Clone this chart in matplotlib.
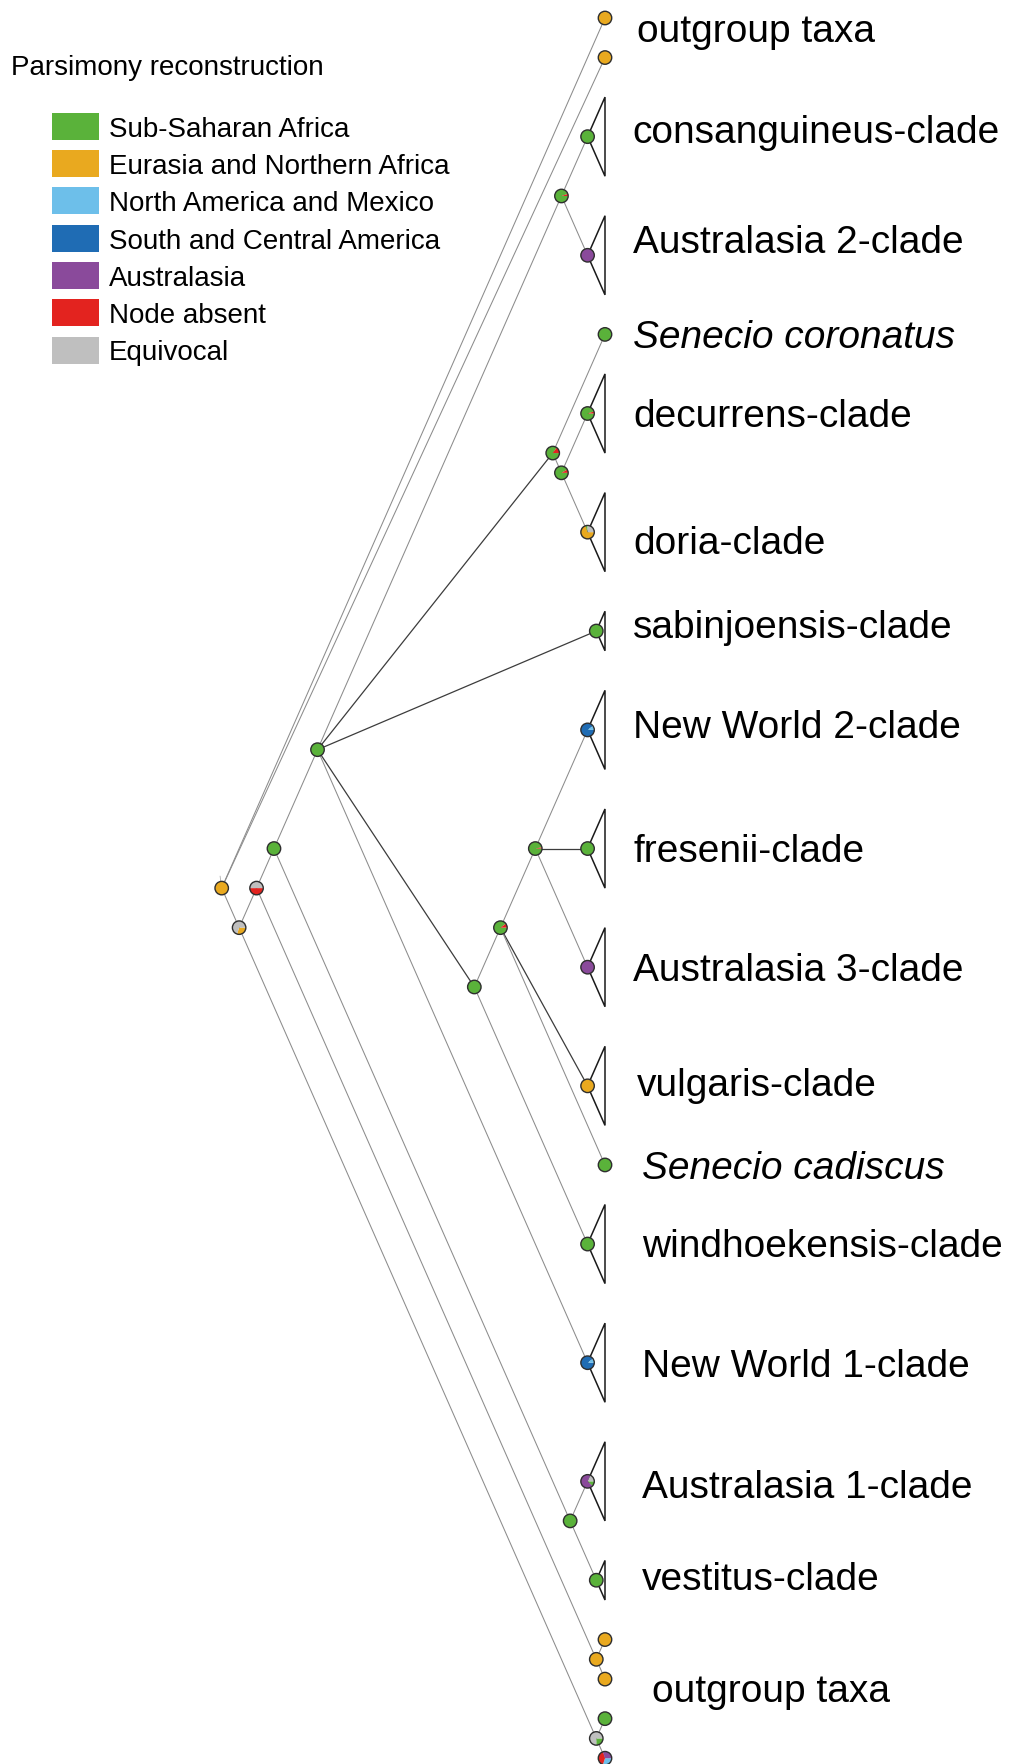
import matplotlib.pyplot as plt
from matplotlib.patches import Wedge, Circle, Polygon, Rectangle

plt.rcParams['font.family'] = ['Liberation Sans', 'DejaVu Sans']

# ancestral area states
states = ['Sub-Saharan Africa', 'Eurasia and Northern Africa', 'North America and Mexico',
          'South and Central America', 'Australasia', 'Node absent', 'Equivocal']
state_colors = ['#5ab23a', '#e9a91f', '#6dbfea', '#1f6cb4', '#8a4a9b', '#e3231f', '#bfbfbf']
G, O, LB, DB, P, R, E = range(7)

# terminals (single taxa or collapsed clades), top to bottom
tip_names = ['out1', 'out2', 'consanguineus', 'aus2', 'coronatus', 'decurrens', 'doria',
             'sabinjoensis', 'nw2', 'fresenii', 'aus3', 'vulgaris', 'cadiscus',
             'windhoekensis', 'nw1', 'aus1', 'vestitus', 'out3', 'out4', 'out5', 'out6']
tip_rows = [0, 1, 3, 6, 8, 10, 13, 15.5, 18, 21, 24, 27, 29, 31, 34, 37, 39.5, 41, 42, 43, 44]
# half height of the collapsed-clade triangle (0 = single taxon)
tip_halfheight = [0, 0, 1, 1, 0, 1, 1, 0.5, 1, 1, 1, 1, 0, 1, 1, 1, 0.5, 0, 0, 0, 0]

# internal nodes in post-order: (node, children top to bottom)
internal = [
    ('n_cons', ['consanguineus', 'aus2']),
    ('n_dec', ['decurrens', 'doria']),
    ('n_cor', ['coronatus', 'n_dec']),
    ('n_nw2', ['nw2', 'fresenii', 'aus3']),
    ('n_vul', ['n_nw2', 'vulgaris', 'cadiscus']),
    ('n_win', ['n_vul', 'windhoekensis']),
    ('n_core', ['n_cons', 'n_cor', 'sabinjoensis', 'n_win', 'nw1']),
    ('n_aus1', ['aus1', 'vestitus']),
    ('n_in', ['n_core', 'n_aus1']),
    ('n_outa', ['out3', 'out4']),
    ('n_k', ['n_in', 'n_outa']),
    ('n_outb', ['out5', 'out6']),
    ('n_m', ['n_k', 'n_outb']),
    ('root', ['out1', 'out2', 'n_m']),
]

# parsimony state proportions at each node
node_states = {
    'out1': [(O, 1)], 'out2': [(O, 1)], 'consanguineus': [(G, 1)], 'aus2': [(P, 1)],
    'coronatus': [(G, 1)], 'decurrens': [(G, .95), (R, .05)],
    'doria': [(O, .7), (G, .05), (E, .25)], 'sabinjoensis': [(G, 1)],
    'nw2': [(DB, .9), (LB, .1)], 'fresenii': [(G, 1)], 'aus3': [(P, 1)],
    'vulgaris': [(O, 1)], 'cadiscus': [(G, 1)], 'windhoekensis': [(G, 1)],
    'nw1': [(DB, .9), (LB, .1)], 'aus1': [(G, .12), (P, .7), (E, .18)],
    'vestitus': [(G, 1)], 'out3': [(O, 1)], 'out4': [(O, 1)], 'out5': [(G, 1)],
    'out6': [(LB, .3), (R, .4), (P, .3)],
    'n_cons': [(G, .95), (R, .05)], 'n_dec': [(G, .92), (R, .08)],
    'n_cor': [(G, .85), (R, .15)], 'n_nw2': [(G, .97), (R, .03)],
    'n_vul': [(G, .9), (R, .1)], 'n_win': [(G, 1)], 'n_core': [(G, 1)],
    'n_aus1': [(G, 1)], 'n_in': [(G, 1)], 'n_outa': [(O, 1)],
    'n_k': [(R, .5), (E, .5)], 'n_outb': [(G, .25), (E, .75)],
    'n_m': [(O, .3), (E, .7)], 'root': [(O, 1)],
}

labels = ['outgroup taxa', 'consanguineus-clade', 'Australasia 2-clade', 'Senecio coronatus',
          'decurrens-clade', 'doria-clade', 'sabinjoensis-clade', 'New World 2-clade',
          'fresenii-clade', 'Australasia 3-clade', 'vulgaris-clade', 'Senecio cadiscus',
          'windhoekensis-clade', 'New World 1-clade', 'Australasia 1-clade', 'vestitus-clade',
          'outgroup taxa']
label_italic = [False, False, False, True, False, False, False, False, False, False,
                False, True, False, False, False, False, False]
label_y = [0.60, 3.17, 5.94, 8.34, 10.34, 13.55, 15.68, 18.20, 21.34, 24.35, 27.26,
           29.36, 31.33, 34.36, 37.42, 39.75, 42.58]
label_dx = [0.81, 0.68, 0.71, 0.71, 0.71, 0.71, 0.71, 0.71, 0.71, 0.71, 0.81, 0.94,
            0.94, 0.94, 0.94, 0.94, 1.19]

# slanted cladogram layout
k = 2.27
pos = {}
for name, r, hh in zip(tip_names, tip_rows, tip_halfheight):
    pos[name] = (-hh / k, r)
for name, kids in internal:
    (x1, y1), (x2, y2) = pos[kids[0]], pos[kids[-1]]
    x = (x1 + x2) / 2 - (y2 - y1) / (2 * k)
    pos[name] = (x, y1 + k * (x1 - x))

W, H, u = 1009, 1764, 39.55
fig = plt.figure(figsize=(W / 100, H / 100), dpi=100)
ax = fig.add_axes([0, 0, 1, 1])
ax.set_xlim(-605 / u, (W - 605) / u)
ax.set_ylim((H - 18) / u, -18 / u)
ax.axis('off')

# branches; inner branches of polytomies are drawn darker
for name, kids in internal:
    px, py = pos[name]
    for i, c in enumerate(kids):
        cx, cy = pos[c]
        middle = 0 < i < len(kids) - 1 and name != 'root'
        ax.plot([px, cx], [py, cy], color='#3c3c3c' if middle else '#8c8c8c',
                lw=0.9 if middle else 0.75, zorder=1, solid_capstyle='round')
rx, ry = pos['root']
ax.plot([rx, rx - 0.04], [ry, ry - 0.3], color='#b0b0b0', lw=0.6, zorder=1)

# collapsed clades
for name, r, hh in zip(tip_names, tip_rows, tip_halfheight):
    if hh > 0:
        ax.add_patch(Polygon([pos[name], (0, r - hh), (0, r + hh)], closed=True,
                             fill=False, ec='#1a1a1a', lw=1.1, zorder=2))

# state pies
rad = 0.17
for name, parts in node_states.items():
    cx, cy = pos[name]
    a = 0.0
    for s, f in parts:
        ax.add_patch(Wedge((cx, cy), rad, a, a + 360 * f, fc=state_colors[s],
                           ec='none', zorder=3))
        a += 360 * f
    ax.add_patch(Circle((cx, cy), rad, fill=False, ec='#2e2e2e', lw=1.0, zorder=4))

for text, y, dx, it in zip(labels, label_y, label_dx, label_italic):
    ax.text(dx, y, text, fontsize=28, va='baseline', ha='left',
            style='italic' if it else 'normal')

# legend
lax = fig.add_axes([0, 0, 1, 1])
lax.set_xlim(0, W)
lax.set_ylim(H, 0)
lax.axis('off')
lax.text(11, 75, 'Parsimony reconstruction', fontsize=20, va='baseline')
for i, (s, c) in enumerate(zip(states, state_colors)):
    yc = 126.3 + 37.3 * i
    lax.add_patch(Rectangle((52, yc - 13.5), 47, 27, fc=c, ec='none'))
    lax.text(109, yc + 10.4, s, fontsize=20, va='baseline')

fig.savefig('out.png', dpi=100)
